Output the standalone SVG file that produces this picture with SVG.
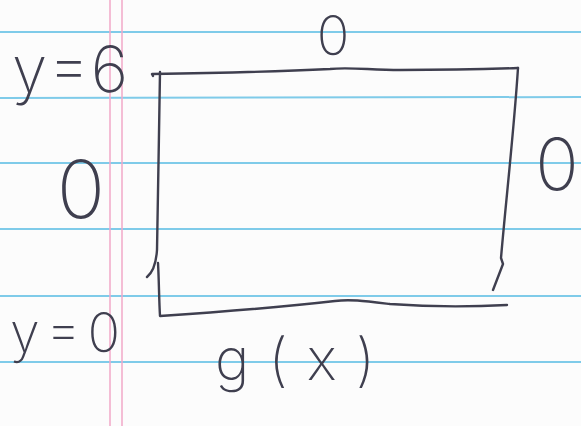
<svg xmlns="http://www.w3.org/2000/svg" width="581" height="426" viewBox="0 0 581 426">
  <style>
    .rule { stroke: #7fcbe9; stroke-width: 2; fill: none; }
    .margin { stroke: #f2a9c8; stroke-width: 1.5; fill: none; }
    .ink { stroke: #3f3f4f; stroke-width: 2.4; fill: none; stroke-linecap: round; stroke-linejoin: round; }
    .hand { font-family: Inter, Roboto, "DejaVu Sans", sans-serif; font-weight: 200; fill: #3f3f4f; }
  </style>
  <rect x="0" y="0" width="581" height="426" fill="#fcfcfc"/>
  <g id="paper">
    <line class="rule" x1="0" y1="32" x2="581" y2="32"/>
    <line class="rule" x1="0" y1="98" x2="581" y2="97"/>
    <line class="rule" x1="0" y1="163" x2="581" y2="163"/>
    <line class="rule" x1="0" y1="229" x2="581" y2="229"/>
    <line class="rule" x1="0" y1="296" x2="581" y2="296"/>
    <line class="rule" x1="0" y1="362" x2="581" y2="362"/>
    <line class="margin" x1="110" y1="0" x2="110" y2="426"/>
    <line class="margin" x1="122" y1="0" x2="122" y2="426"/>
  </g>
  <g id="rectangle">
    <path class="ink" d="M153,76 L152,74 C220,73 290,71 330,69 C350,67 370,70 400,70 C450,70 490,69 518,68"/>
    <path class="ink" d="M160,72 C159,130 158,200 157,250 C156,265 152,273 147,277"/>
    <path class="ink" d="M518,68 C514,130 506,200 501,258 L503,264 L493,290"/>
    <path class="ink" d="M158,263 C159,280 159,300 160,316 C220,312 300,305 335,301 C350,299 365,301 390,304 C430,307 470,307 507,305"/>
  </g>
  <g id="label-top">
    <text class="hand" x="333" y="55" font-size="54" text-anchor="middle">0</text>
  </g>
  <g id="label-left">
    <text class="hand" x="81" y="218" font-size="80" text-anchor="middle">0</text>
  </g>
  <g id="label-right">
    <text class="hand" x="557" y="190" font-size="72" text-anchor="middle">0</text>
  </g>
  <g id="label-y6">
    <text class="hand" x="12" y="92" font-size="64" textLength="116" lengthAdjust="spacing">y = 6</text>
  </g>
  <g id="label-y0">
    <text class="hand" x="10" y="352" font-size="54" textLength="110" lengthAdjust="spacing">y = 0</text>
  </g>
  <g id="label-gx">
    <text class="hand" x="215" y="380" font-size="58" textLength="160" lengthAdjust="spacing">g(x)</text>
  </g>
</svg>
